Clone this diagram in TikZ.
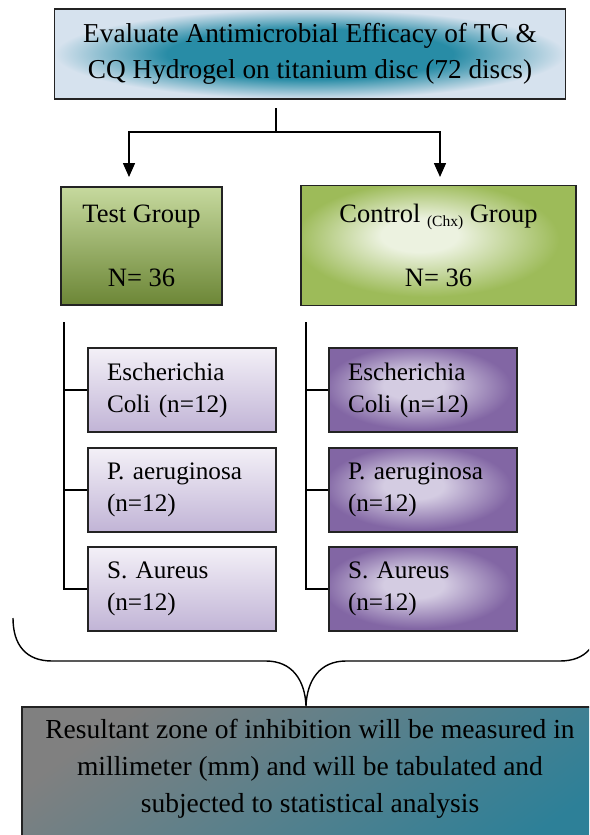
\documentclass[tikz,border=0pt]{standalone}
\usepackage{fontspec}
\setmainfont{Liberation Serif}
\usetikzlibrary{arrows.meta}
\definecolor{tealc}{RGB}{40,140,166}
\definecolor{edgeblue}{RGB}{214,226,238}
\definecolor{grA}{RGB}{198,217,158}
\definecolor{grB}{RGB}{157,187,89}
\definecolor{grC}{RGB}{108,134,54}
\definecolor{ctrlin}{RGB}{236,242,224}
\definecolor{puA}{RGB}{243,240,247}
\definecolor{puB}{RGB}{214,205,228}
\definecolor{puC}{RGB}{193,180,214}
\definecolor{pdin}{RGB}{212,204,226}
\definecolor{pdout}{RGB}{130,102,164}
\definecolor{botgrey}{RGB}{128,128,128}
\definecolor{botteal}{RGB}{52,160,190}
\definecolor{botdark}{RGB}{45,128,152}
\definecolor{outl}{RGB}{35,35,35}
\pgfdeclareradialshading{topshade}{\pgfpoint{0bp}{0bp}}{color(0bp)=(tealc); color(14bp)=(tealc); color(25bp)=(edgeblue); color(50bp)=(edgeblue)}
\pgfdeclareradialshading{ctrlshade}{\pgfpoint{-4bp}{5bp}}{color(0bp)=(ctrlin); color(7bp)=(ctrlin); color(24bp)=(grB); color(50bp)=(grB)}
\pgfdeclareradialshading{purshade}{\pgfpoint{-3bp}{3bp}}{color(0bp)=(pdin); color(8bp)=(pdin); color(25bp)=(pdout); color(50bp)=(pdout)}
\begin{document}
\begin{tikzpicture}[x=1pt,y=-1pt,
  boxbase/.style={draw=outl, line width=1.1pt, inner sep=0pt, rectangle},
  topbox/.style={boxbase, shading=topshade, align=center, font=\fontsize{27.3}{36}\selectfont},
  testbox/.style={boxbase, top color=grA, middle color=grB, bottom color=grC, align=center, font=\fontsize{26.5}{30}\selectfont},
  ctrlbox/.style={boxbase, shading=ctrlshade, align=center, font=\fontsize{26.5}{30}\selectfont},
  lsub/.style={boxbase, top color=puA, middle color=puB, bottom color=puC, minimum width=188pt, minimum height=84pt, align=left, text width=150pt, font=\fontsize{25.2}{32}\selectfont},
  rsub/.style={boxbase, shading=purshade, minimum width=188pt, minimum height=84pt, align=left, text width=150pt, font=\fontsize{25.2}{32}\selectfont},
  conn/.style={line width=1.5pt, draw=black},
  arr/.style={conn, -{Triangle[length=14pt,width=12pt]}}
]
\useasboundingbox (0,0) rectangle (589,835);
\clip (0,0) rectangle (589,835);
% top box
\node[topbox, minimum width=511pt, minimum height=90pt] (top) at (310,54)
  {Evaluate Antimicrobial Efficacy of TC \&\\CQ Hydrogel on titanium disc (72 discs)};
% group boxes
\node[testbox, minimum width=161pt, minimum height=118pt] (test) at (141.5,246)
  {Test Group\\[34pt]N= 36};
\node[ctrlbox, minimum width=275pt, minimum height=120pt] (ctrl) at (438.5,245.5)
  {Control \raisebox{-4pt}{\fontsize{15.5}{15.5}\selectfont (Chx)} Group\\[34pt]N= 36};
% arrows
\coordinate (trunk) at (276,108);
\coordinate (tA) at (129,177);
\coordinate (cA) at (440,177);
\draw[arr] (trunk) -- (276,132) -| (tA);
\draw[arr] (trunk) -- (276,132) -| (cA);
% sub boxes
\node[lsub] (l1) at (182,390) {Escherichia\\Coli (n=12)};
\node[lsub] (l2) at (182,490) {P. aeruginosa\\(n=12)};
\node[lsub] (l3) at (182,589) {S. Aureus\\(n=12)};
\node[rsub] (r1) at (423,390) {Escherichia\\Coli (n=12)};
\node[rsub] (r2) at (423,490) {P. aeruginosa\\(n=12)};
\node[rsub] (r3) at (423,589) {S. Aureus\\(n=12)};
% branch lines
\coordinate (ltop) at (64,322);
\coordinate (rtop) at (306,322);
\draw[conn] (ltop) |- (l3.west);
\draw[conn] (l1.west) -- (l1.west -| ltop);
\draw[conn] (l2.west) -- (l2.west -| ltop);
\draw[conn] (rtop) |- (r3.west);
\draw[conn] (r1.west) -- (r1.west -| rtop);
\draw[conn] (r2.west) -- (r2.west -| rtop);
% bottom box
\node[boxbase, minimum width=580pt, minimum height=160pt, top color=botgrey, middle color=botteal, bottom color=botdark, shading angle=35] (bot) at (312,787) {};
\node[align=center, font=\fontsize{27.5}{37}\selectfont] (restext) at (310,769)
  {Resultant zone of inhibition will be measured in\\millimeter (mm) and will be tabulated and\\subjected to statistical analysis};
% brace
\coordinate (btip) at (306,706);
\draw[line width=1.4pt] (13,618) .. controls (13,645) and (26,661) .. (52,661) -- (266,661)
  .. controls (292,661) and (305,680) .. (btip)
  .. controls (307,680) and (320,661) .. (346,661) -- (560,661)
  .. controls (586,661) and (599,645) .. (599,618);
\end{tikzpicture}
\end{document}
